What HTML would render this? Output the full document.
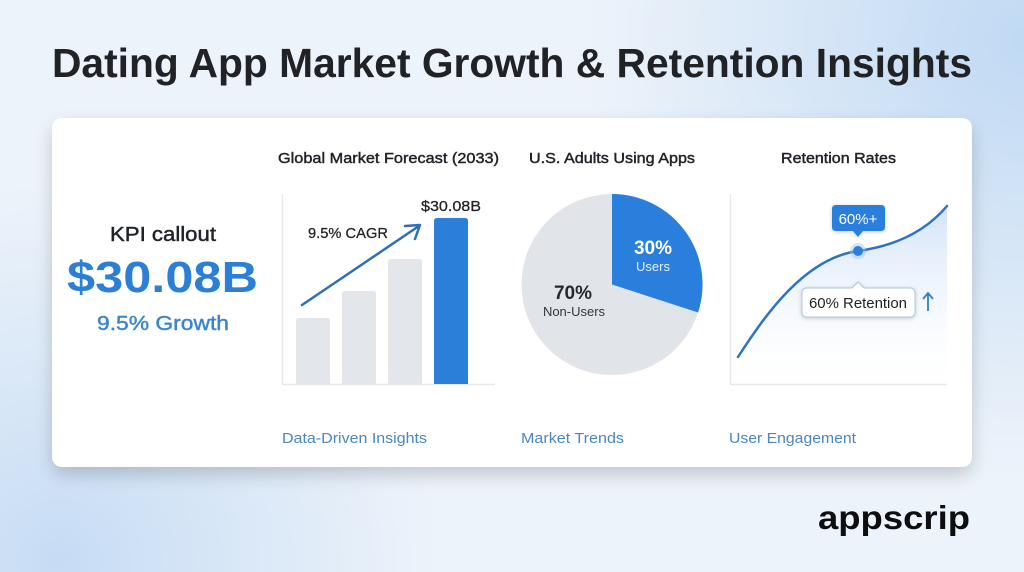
<!DOCTYPE html>
<html><head><meta charset="utf-8"><style>
html,body{margin:0;padding:0;width:1024px;height:572px;overflow:hidden;}
body{background:#ecf2fa;}
svg{display:block;}
text{font-family:"Liberation Sans",sans-serif;}
.med{stroke-width:0.45;}
</style></head><body>
<svg width="1024" height="572" viewBox="0 0 1024 572" xmlns="http://www.w3.org/2000/svg">
<defs>
<radialGradient id="bgTR" cx="1024" cy="40" r="440" gradientUnits="userSpaceOnUse">
<stop offset="0" stop-color="#c0d9f3"/><stop offset="1" stop-color="#c3dbf4" stop-opacity="0"/></radialGradient>
<radialGradient id="bgBL" cx="60" cy="560" r="380" gradientUnits="userSpaceOnUse">
<stop offset="0" stop-color="#c6dcf4"/><stop offset="1" stop-color="#c9def5" stop-opacity="0"/></radialGradient>
<filter id="sh" x="-10%" y="-10%" width="120%" height="130%">
<feGaussianBlur in="SourceAlpha" stdDeviation="9"/><feOffset dy="8"/>
<feComponentTransfer><feFuncA type="linear" slope="0.18"/></feComponentTransfer>
<feMerge><feMergeNode/><feMergeNode in="SourceGraphic"/></feMerge></filter>
<linearGradient id="fillG" x1="0" y1="0" x2="0" y2="1">
<stop offset="0" stop-color="#d2e3f7"/><stop offset="1" stop-color="#ffffff" stop-opacity="0.2"/></linearGradient>
<filter id="tsh" x="-20%" y="-30%" width="140%" height="170%">
<feGaussianBlur in="SourceAlpha" stdDeviation="2"/><feOffset dy="1"/>
<feComponentTransfer><feFuncA type="linear" slope="0.2"/></feComponentTransfer>
<feMerge><feMergeNode/><feMergeNode in="SourceGraphic"/></feMerge></filter>
</defs>
<rect width="1024" height="572" fill="#edf3fa"/>
<rect width="1024" height="572" fill="url(#bgTR)"/>
<rect width="1024" height="572" fill="url(#bgBL)"/>

<text x="52" y="77" font-size="41" font-weight="bold" fill="#202226" textLength="920" lengthAdjust="spacingAndGlyphs">Dating App Market Growth &amp; Retention Insights</text>

<rect x="52" y="118" width="920" height="349" rx="10" fill="#ffffff" filter="url(#sh)"/>

<!-- KPI -->
<text x="163" y="241" font-size="20" fill="#1f2227" stroke="#1f2227" class="med" text-anchor="middle" textLength="106" lengthAdjust="spacingAndGlyphs">KPI callout</text>
<text x="67" y="292" font-size="44" font-weight="bold" fill="#2b7fd6" textLength="191" lengthAdjust="spacingAndGlyphs">$30.08B</text>
<text x="97" y="330" font-size="20" fill="#3a85cf" stroke="#3a85cf" class="med" textLength="132" lengthAdjust="spacingAndGlyphs">9.5% Growth</text>

<!-- Bar chart -->
<text x="278" y="163" font-size="15" fill="#1f2227" stroke="#1f2227" class="med" textLength="221" lengthAdjust="spacingAndGlyphs">Global Market Forecast (2033)</text>
<line x1="282.5" y1="194" x2="282.5" y2="384" stroke="#e6e9ee" stroke-width="1.5"/>
<line x1="282" y1="384.5" x2="495" y2="384.5" stroke="#e6e9ee" stroke-width="1.5"/>
<path d="M296,384 V321 Q296,318 299,318 H327 Q330,318 330,321 V384 Z" fill="#e3e6ea"/>
<path d="M342,384 V294 Q342,291 345,291 H373 Q376,291 376,294 V384 Z" fill="#e3e6ea"/>
<path d="M388,384 V262 Q388,259 391,259 H419 Q422,259 422,262 V384 Z" fill="#e3e6ea"/>
<path d="M434,384 V221 Q434,218 437,218 H465 Q468,218 468,221 V384 Z" fill="#2b7fd9"/>
<line x1="302" y1="305" x2="419" y2="226" stroke="#2f6fb4" stroke-width="2.5" stroke-linecap="round"/>
<polyline points="405,226 420,225 415,239" fill="none" stroke="#2f6fb4" stroke-width="2.5" stroke-linecap="round" stroke-linejoin="round"/>
<text x="308" y="238" font-size="15" fill="#222" stroke="#222" stroke-width="0.25" textLength="80" lengthAdjust="spacingAndGlyphs">9.5% CAGR</text>
<text x="421" y="211" font-size="15" fill="#222" stroke="#222" stroke-width="0.25" textLength="60" lengthAdjust="spacingAndGlyphs">$30.08B</text>

<!-- Pie -->
<text x="529" y="163" font-size="15" fill="#1f2227" stroke="#1f2227" class="med" textLength="166" lengthAdjust="spacingAndGlyphs">U.S. Adults Using Apps</text>
<circle cx="612" cy="284.5" r="90.5" fill="#e1e5ea"/>
<path d="M612,284.5 L612,194 A90.5,90.5 0 0 1 698.1,312.5 Z" fill="#2a7fdc"/>
<text x="653" y="254" font-size="19" font-weight="bold" fill="#ffffff" text-anchor="middle">30%</text>
<text x="653" y="271" font-size="13" fill="#e6f0fb" text-anchor="middle">Users</text>
<text x="573" y="299" font-size="19" font-weight="bold" fill="#26292e" text-anchor="middle">70%</text>
<text x="574" y="316" font-size="13" fill="#33363b" text-anchor="middle">Non-Users</text>

<!-- Retention -->
<text x="781" y="163" font-size="15" fill="#1f2227" stroke="#1f2227" class="med" textLength="115" lengthAdjust="spacingAndGlyphs">Retention Rates</text>
<path d="M738,357 C765,315 805,258 858,251 C895,246 925,232 947,206 L947,384 L738,384 Z" fill="url(#fillG)"/>
<line x1="730.5" y1="194" x2="730.5" y2="384" stroke="#e6e9ee" stroke-width="1.5"/>
<line x1="730" y1="384.5" x2="947" y2="384.5" stroke="#e6e9ee" stroke-width="1.5"/>
<path d="M738,357 C765,315 805,258 858,251 C895,246 925,232 947,206" fill="none" stroke="#2f73c0" stroke-width="2.5" stroke-linecap="round"/>
<circle cx="858" cy="251" r="8" fill="#9cc3ee" opacity="0.45"/>
<circle cx="858" cy="251" r="5" fill="#2a7fdc"/>
<g filter="url(#tsh)">
<path d="M836,205 H881 Q885,205 885,209 V227 Q885,231 881,231 H863 L858,237 L853,231 H836 Q832,231 832,227 V209 Q832,205 836,205 Z" fill="#2a7fdc"/>
</g>
<text x="858" y="224" font-size="15" fill="#ffffff" text-anchor="middle">60%+</text>
<g filter="url(#tsh)">
<path d="M807,288 H852 L858,282 L864,288 H910 Q915,288 915,293 V312 Q915,317 910,317 H807 Q802,317 802,312 V293 Q802,288 807,288 Z" fill="#ffffff" stroke="#a9c8e6" stroke-width="1"/>
</g>
<text x="858" y="308" font-size="15" fill="#222" text-anchor="middle" textLength="98" lengthAdjust="spacingAndGlyphs">60% Retention</text>
<line x1="928" y1="294" x2="928" y2="311" stroke="#2f7fc8" stroke-width="1.8"/>
<polyline points="923,299 928,293 933,299" fill="none" stroke="#2f7fc8" stroke-width="1.8" stroke-linejoin="round"/>

<!-- bottom labels -->
<text x="282" y="443" font-size="15" fill="#4a86c0" textLength="145" lengthAdjust="spacingAndGlyphs">Data-Driven Insights</text>
<text x="521" y="443" font-size="15" fill="#4a86c0" textLength="103" lengthAdjust="spacingAndGlyphs">Market Trends</text>
<text x="729" y="443" font-size="15" fill="#4a86c0" textLength="127" lengthAdjust="spacingAndGlyphs">User Engagement</text>

<text x="818" y="529" font-size="33" font-weight="bold" fill="#0d0e10" textLength="152" lengthAdjust="spacingAndGlyphs">appscrip</text>
</svg>
</body></html>
